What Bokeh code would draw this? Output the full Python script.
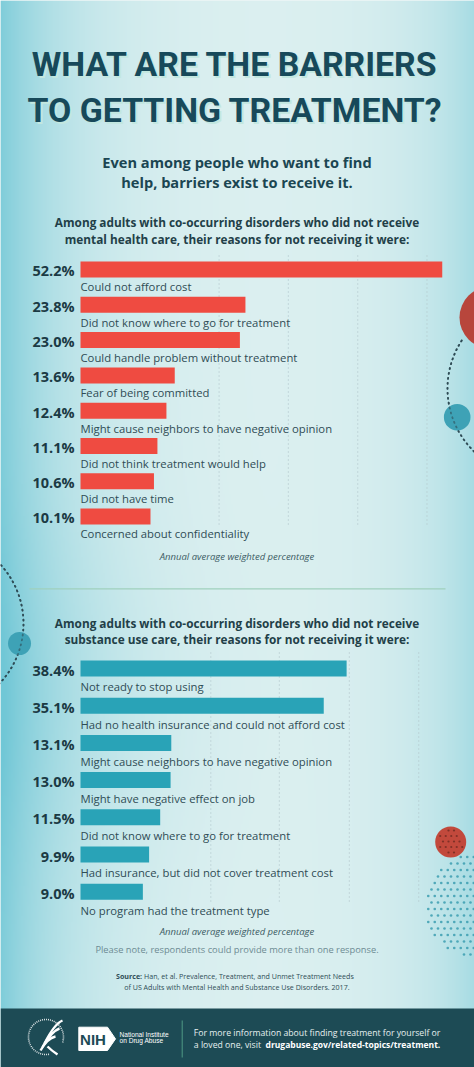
import numpy as np
from bokeh.plotting import figure
from bokeh.models import Range1d, ColumnDataSource
from bokeh.core.properties import value
from bokeh.embed import file_html
from bokeh.resources import INLINE

# ---------------- data ----------------
title_lines = ["WHAT ARE THE BARRIERS", "TO GETTING TREATMENT?"]
subtitle_lines = ["Even among people who want to find", "help, barriers exist to receive it."]

mh_heading = ["Among adults with co-occurring disorders who did not receive",
              "mental health care, their reasons for not receiving it were:"]
mh_reasons = ["Could not afford cost",
              "Did not know where to go for treatment",
              "Could handle problem without treatment",
              "Fear of being committed",
              "Might cause neighbors to have negative opinion",
              "Did not think treatment would help",
              "Did not have time",
              "Concerned about confidentiality"]
mh_values = [52.2, 23.8, 23.0, 13.6, 12.4, 11.1, 10.6, 10.1]
mh_grid = [20, 30, 40, 50]

su_heading = ["Among adults with co-occurring disorders who did not receive",
              "substance use care, their reasons for not receiving it were:"]
su_reasons = ["Not ready to stop using",
              "Had no health insurance and could not afford cost",
              "Might cause neighbors to have negative opinion",
              "Might have negative effect on job",
              "Did not know where to go for treatment",
              "Had insurance, but did not cover treatment cost",
              "No program had the treatment type"]
su_values = [38.4, 35.1, 13.1, 13.0, 11.5, 9.9, 9.0]
su_grid = [18.8, 28.7, 38.8, 48.8]

axis_note = "Annual average weighted percentage"
response_note = "Please note, respondents could provide more than one response."
source_bold = "Source:"
source_lines = ["Han, et al. Prevalence, Treatment, and Unmet Treatment Needs",
                "of US Adults with Mental Health and Substance Use Disorders. 2017."]
footer_line1 = "For more information about finding treatment for yourself or"
footer_line2a = "a loved one, visit"
footer_line2b = "drugabuse.gov/related-topics/treatment."
nih_text = ["National Institute", "on Drug Abuse"]

# ---------------- style ----------------
FONT = value("Open Sans")
TITLE_FONT = value("Roboto")
DARK = "#1b4652"
RED = "#ef4b41"
TEAL = "#29a3b7"
FOOT = "#1d4b55"
DOT = dict(line_color="#2e4b55", line_width=1.8, line_dash="1 4", line_cap="round")
K = 0.37  # baseline correction (fraction of font size)

def bl(y, size):
    return y - K * size

W, H = 474, 1067
p = figure(width=W, height=H, x_range=Range1d(0, W), y_range=Range1d(H, 0),
           x_axis_location=None, y_axis_location=None, toolbar_location=None,
           output_backend="svg", min_border=0, outline_line_color=None,
           background_fill_color="#dff0f0", border_fill_color="#dff0f0")
p.xgrid.visible = False
p.ygrid.visible = False

PX = 6.93   # pixels per percent
X0 = 80     # bar origin (pixels)
p.extra_x_ranges = {"pct": Range1d((0 - X0) / PX, (W - X0) / PX)}
p.extra_y_ranges = {"mh": Range1d((H - 269) / 35.3, (0 - 269) / 35.3),
                    "su": Range1d((H - 668) / 37.2, (0 - 668) / 37.2)}

# ---------------- background ----------------
gw, gh = 237, 534
gx = np.linspace(0, W, gw)
gy = np.linspace(0, H, gh)
X, Y = np.meshgrid(gx, gy)
s = 0.85 * np.exp(-X / 70.0) + 0.5 * np.exp(-(W - X) / 60.0)
s += 0.18 * np.exp(-((X) ** 2 + (Y - 700) ** 2) / (160.0 ** 2))
s = np.clip(s, 0, 1)
pale = np.array([223, 241, 241], dtype=float)
cyan = np.array([112, 199, 214], dtype=float)
rgb = pale[None, None, :] * (1 - s)[..., None] + cyan[None, None, :] * s[..., None]
img = np.empty((gh, gw), dtype=np.uint32)
view = img.view(dtype=np.uint8).reshape((gh, gw, 4))
view[..., 0] = rgb[..., 0].astype(np.uint8)
view[..., 1] = rgb[..., 1].astype(np.uint8)
view[..., 2] = rgb[..., 2].astype(np.uint8)
view[..., 3] = 255
p.image_rgba(image=[img], x=0, y=0, dw=W, dh=H)

# ---------------- decorations ----------------
def arc_pts(cx, cy, r, a0, a1, n=120):
    t = np.radians(np.linspace(a0, a1, n))
    return cx + r * np.cos(t), cy + r * np.sin(t)

# top right
p.circle(x=[490], y=[317], radius=31, fill_color="#b8463c", line_color=None)
ax, ay = arc_pts(535, 388, 88, 213, 128)
p.line(ax, ay, **DOT)
p.circle(x=[456.7], y=[416.7], radius=13.3, fill_color="#3ea2b6", line_color=None)
p.line(ax, ay, line_alpha=0.6, **DOT)
# left
lx, ly = arc_pts(-64, 623, 87, -52, 52)
p.line(lx, ly, **DOT)
p.circle(x=[19], y=[643], radius=11.5, fill_color="#3ea2b6", line_color=None)
p.line(lx, ly, line_alpha=0.6, **DOT)
# bottom right halftone
hx, hy = [], []
for j, yy in enumerate(np.arange(850, 965, 6.5)):
    off = 3.25 if j % 2 else 0
    for xx in np.arange(418 + off, 476, 6.5):
        if (xx - 478) ** 2 + (yy - 905) ** 2 < 53 ** 2:
            hx.append(xx); hy.append(yy)
p.scatter(hx, hy, size=2.6, fill_color="#3b9db0", line_color=None, fill_alpha=0.85)
p.circle(x=[450.2], y=[841.5], radius=15.5, fill_color="#c2493c", line_color=None)
rx, ry = [], []
for j, yy in enumerate(np.arange(830, 856, 5.5)):
    off = 2.75 if j % 2 else 0
    for xx in np.arange(437 + off, 465, 5.5):
        if (xx - 450.2) ** 2 + (yy - 841.5) ** 2 < 13 ** 2:
            rx.append(xx); ry.append(yy)
p.scatter(rx, ry, size=2.2, fill_color="#6e2a22", line_color=None, fill_alpha=0.8)

# ---------------- title ----------------
TS = 33.8
ty = [bl(77, TS), bl(123, TS)]
p.text(x=[234.5, 234.5], y=ty, text=title_lines, x_offset=2, y_offset=2,
       text_align="center", text_baseline="alphabetic", text_font=TITLE_FONT,
       text_font_style="bold", text_font_size=f"{TS}px", text_color="#c2e7e0")
p.text(x=[234.5, 234.5], y=ty, text=title_lines,
       text_align="center", text_baseline="alphabetic", text_font=TITLE_FONT,
       text_font_style="bold", text_font_size=f"{TS}px", text_color="#17495a")

p.text(x=[236.5, 236.5], y=[bl(166.7, 14.6), bl(186.7, 14.6)], text=subtitle_lines,
       text_align="center", text_baseline="alphabetic", text_font=FONT,
       text_font_style="bold", text_font_size="14.6px", text_color=DARK)

# ---------------- charts ----------------
def chart(heading, head_y, reasons, values, grid, grid_y, key, color, step, note_y,
          pct_dy, lab_dy):
    p.text(x=[236.5, 236.5], y=[bl(v, 11.8) for v in head_y], text=heading,
           text_align="center", text_baseline="alphabetic", text_font=FONT,
           text_font_style="bold", text_font_size="11.8px", text_color="#223f48")
    p.segment(x0=grid, x1=grid, y0=[grid_y[0]] * len(grid), y1=[grid_y[1]] * len(grid),
              x_range_name="pct", line_color="#b4c8cd", line_width=1.2, line_dash="1 3")
    src = ColumnDataSource(dict(rank=list(range(len(values))), value=values, reason=reasons,
                                label=[f"{v:.1f}%" for v in values]))
    p.hbar(y="rank", left=0, right="value", height=16.0 / step, source=src,
           x_range_name="pct", y_range_name=key, fill_color=color, line_color=None)
    p.text(x=0, y="rank", text="label", source=src, x_range_name="pct", y_range_name=key,
           x_offset=-6, y_offset=pct_dy - K * 14.5, text_align="right",
           text_baseline="alphabetic", text_font=FONT, text_font_style="bold",
           text_font_size="14.5px", text_color="#1b3a44")
    p.text(x=0, y="rank", text="reason", source=src, x_range_name="pct", y_range_name=key,
           x_offset=0, y_offset=lab_dy - K * 11.3, text_align="left",
           text_baseline="alphabetic", text_font=FONT, text_font_size="11.3px",
           text_color="#2f4c55")
    p.text(x=[236.5], y=[bl(note_y, 9.5)], text=[axis_note], text_align="center",
           text_baseline="alphabetic", text_font=FONT, text_font_style="italic",
           text_font_size="9.5px", text_color="#3b5b64")

chart(mh_heading, [226, 243], mh_reasons, mh_values, mh_grid, (255, 527), "mh", RED,
      35.3, 559.3, 6.7, 21.5)
p.segment(x0=[29], x1=[445], y0=[588.3], y1=[588.3], line_color="#9fd0bd", line_width=1.2)
chart(su_heading, [626.7, 643.3], su_reasons, su_values, su_grid, (652, 903), "su", TEAL,
      37.2, 935, 7.0, 22.5)

p.text(x=[236.5], y=[bl(952.7, 9.3)], text=[response_note], text_align="center",
       text_baseline="alphabetic", text_font=FONT, text_font_size="9.3px", text_color="#6d8b93")
p.text(x=[141.6], y=[bl(978.3, 7.1)], text=[source_bold], text_align="right",
       text_baseline="alphabetic", text_font=FONT, text_font_style="bold",
       text_font_size="7.1px", text_color="#2f4d56")
p.text(x=[143.6], y=[bl(978.3, 7.1)], text=[source_lines[0]], text_align="left",
       text_baseline="alphabetic", text_font=FONT, text_font_size="7.1px", text_color="#2f4d56")
p.text(x=[236.4], y=[bl(988.7, 7.1)], text=[source_lines[1]], text_align="center",
       text_baseline="alphabetic", text_font=FONT, text_font_size="7.1px", text_color="#2f4d56")

# ---------------- footer ----------------
p.quad(left=[0], right=[W], top=[1008], bottom=[H], fill_color=FOOT, line_color=None)
p.segment(x0=[181.7], x1=[181.7], y0=[1020], y1=[1057], line_color="#4f9a86", line_width=1)
# HHS logo
cx, cy = arc_pts(45.5, 1036.5, 17.5, 80, 380)
p.line(cx, cy, line_color="white", line_width=1.6, line_dash="1 1", line_alpha=0.85)
p.bezier(x0=[44, 42, 40, 47], y0=[1043, 1046.5, 1050, 1046],
         x1=[62, 59, 55, 57], y1=[1020, 1028, 1036, 1054],
         cx0=[50, 48, 45, 51], cy0=[1031, 1036, 1041, 1050],
         cx1=[55, 53, 50, 54], cy1=[1023, 1030, 1037, 1052],
         line_color="white", line_width=2.4)
# NIH box
p.patch(x=[78.3, 107, 115, 107, 78.3], y=[1026.7, 1026.7, 1038.4, 1050, 1050],
        fill_color="white", line_color="white", line_width=1, line_join="round")
p.text(x=[92.5], y=[bl(1044.3, 15)], text=["NIH"], text_align="center",
       text_baseline="alphabetic", text_font=value("Liberation Sans"), text_font_style="bold",
       text_font_size="15px", text_color=FOOT)
p.text(x=[119, 119], y=[bl(1036, 6.6), bl(1042.8, 6.6)], text=nih_text, text_align="left",
       text_baseline="alphabetic", text_font=value("Liberation Sans"), text_font_size="6.6px",
       text_color="white")
p.text(x=[193.3], y=[bl(1036, 8.7)], text=[footer_line1], text_align="left",
       text_baseline="alphabetic", text_font=FONT, text_font_size="8.7px", text_color="#e6f0f0")
p.text(x=[193.3], y=[bl(1047.5, 8.7)], text=[footer_line2a], text_align="left",
       text_baseline="alphabetic", text_font=FONT, text_font_size="8.7px", text_color="#e6f0f0")
p.text(x=[265], y=[bl(1047.5, 8.5)], text=[footer_line2b], text_align="left",
       text_baseline="alphabetic", text_font=FONT, text_font_style="bold",
       text_font_size="8.5px", text_color="#ffffff")

open("out.html", "w").write(file_html(p, INLINE))
